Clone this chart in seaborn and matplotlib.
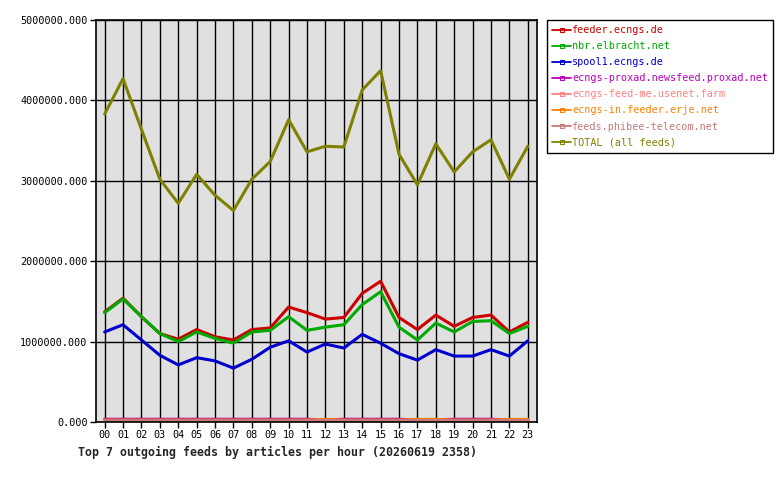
import pandas as pd
import matplotlib
matplotlib.use("Agg")
import matplotlib.pyplot as plt
from matplotlib.lines import Line2D
import seaborn as sns

# hours of the day
hours = ["%02d" % h for h in range(24)]

# articles per hour
feeder_ecngs = [1370000, 1540000, 1310000, 1100000, 1030000, 1150000, 1060000, 1020000,
                1150000, 1170000, 1430000, 1360000, 1280000, 1300000, 1600000, 1750000,
                1300000, 1150000, 1330000, 1190000, 1300000, 1330000, 1120000, 1240000]
nbr_elbracht = [1360000, 1530000, 1310000, 1100000, 1000000, 1120000, 1040000, 980000,
                1120000, 1140000, 1310000, 1140000, 1180000, 1210000, 1460000, 1620000,
                1180000, 1020000, 1230000, 1120000, 1250000, 1260000, 1100000, 1190000]
spool1_ecngs = [1120000, 1210000, 1020000, 830000, 710000, 800000, 760000, 670000,
                780000, 930000, 1010000, 870000, 970000, 920000, 1090000, 980000,
                850000, 770000, 900000, 820000, 820000, 900000, 820000, 1010000]
proxad = [34000, 34000, 34000, 34000, 34000, 34000, 34000, 34000, 34000, 34000, 34000, 34000,
          26000, 34000, 34000, 34000, 34000, 26000, 26000, 34000, 34000, 34000, 26000, 26000]
feed_me = [18000] * 24
erje = [24000, 24000, 24000, 24000, 24000, 24000, 24000, 24000, 24000, 24000, 24000, 24000,
        32000, 24000, 24000, 24000, 24000, 32000, 32000, 24000, 24000, 24000, 32000, 32000]
phibee = [20000] * 24
total = [3830000, 4270000, 3640000, 3020000, 2720000, 3080000, 2820000, 2630000,
         3020000, 3240000, 3760000, 3360000, 3430000, 3420000, 4130000, 4370000,
         3330000, 2950000, 3460000, 3110000, 3360000, 3510000, 3020000, 3430000]

feeds = ["feeder.ecngs.de", "nbr.elbracht.net", "spool1.ecngs.de",
         "ecngs-proxad.newsfeed.proxad.net", "ecngs-feed-me.usenet.farm",
         "ecngs-in.feeder.erje.net", "feeds.phibee-telecom.net", "TOTAL (all feeds)"]
series = [feeder_ecngs, nbr_elbracht, spool1_ecngs, proxad, feed_me, erje, phibee, total]
colors = ["#cc0000", "#00aa00", "#0000cc", "#bb00bb",
          "#ff8080", "#ff8000", "#c87878", "#808000"]

rows = []
for name, vals in zip(feeds, series):
    for i, v in enumerate(vals):
        rows.append({"hour": i, "feed": name, "articles": v})
df = pd.DataFrame(rows)

sns.set_theme(style="white", rc={"axes.facecolor": "#e0e0e0",
                                 "axes.edgecolor": "black"})
plt.rcParams["font.family"] = ["DejaVu Sans Mono"]

fig = plt.figure(figsize=(7.8, 4.8), dpi=100)
ax = fig.add_axes([96 / 780, 58 / 480, 441 / 780, 402 / 480])

sns.lineplot(data=df, x="hour", y="articles", hue="feed", hue_order=feeds,
             palette=dict(zip(feeds, colors)), linewidth=2.2, legend=False, ax=ax)

ax.set_xlim(-0.47, 23.5)
ax.set_ylim(0, 5000000)
ax.set_xticks(range(24))
ax.set_xticklabels(hours)
ax.set_yticks([0, 1000000, 2000000, 3000000, 4000000, 5000000])
ax.set_yticklabels(["%.3f" % v for v in ax.get_yticks()])
ax.grid(True, color="black", linewidth=1)
ax.set_axisbelow(True)
ax.tick_params(axis="both", labelsize=7.3, colors="black", length=4, width=1,
               direction="out", bottom=True, left=True, pad=2)
ax.set_xlabel("")
ax.set_ylabel("")
for sp in ax.spines.values():
    sp.set_linewidth(1.2)

handles = [Line2D([0], [0], color=c, linewidth=1.3, marker="s", markersize=3,
                  markerfacecolor="none", markeredgewidth=0.8) for c in colors]
leg = fig.legend(handles, feeds, loc="upper left", bbox_to_anchor=(547 / 780, 1 - 20 / 480),
                 fontsize=7.3, frameon=True, fancybox=False, edgecolor="black",
                 facecolor="white", framealpha=1,
                 handlelength=1.9, handletextpad=0.1, labelspacing=0.6,
                 borderpad=0.5, borderaxespad=0)
leg.get_frame().set_linewidth(1)
for txt, c in zip(leg.get_texts(), colors):
    txt.set_color(c)

fig.text(78 / 780, 1 - 452 / 480,
         "Top 7 outgoing feeds by articles per hour (20260619 2358)",
         fontsize=8.4, fontweight="bold", va="center", ha="left")

fig.savefig("out.png", dpi=100, facecolor="white")
